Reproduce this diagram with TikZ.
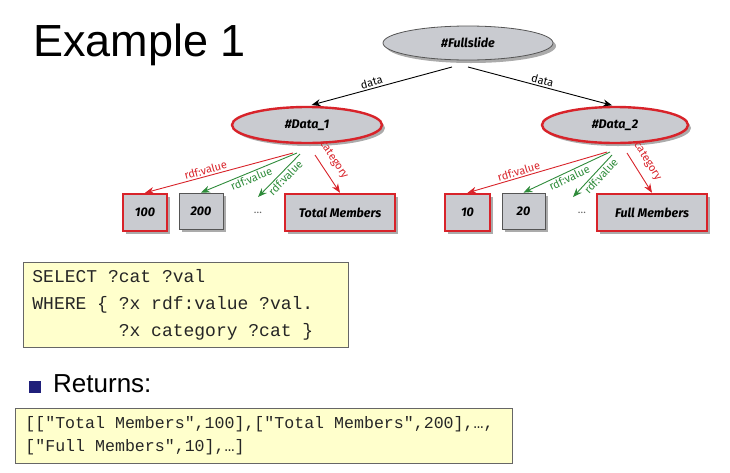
\documentclass[tikz,border=0pt]{standalone}
\usepackage{fontspec}
\setmainfont{Liberation Sans}
\newfontfamily\codefont{Liberation Mono}
\newfontfamily\gill{Fira Sans}
\usetikzlibrary{shapes.geometric,shadows,arrows.meta}
\definecolor{nodegray}{HTML}{C9CBD0}
\definecolor{rdred}{HTML}{D8232A}
\definecolor{rdgreen}{HTML}{2E8B3A}
\definecolor{codeyellow}{HTML}{FFFFCC}
\definecolor{navy}{HTML}{1F1F7A}
\definecolor{bordergray}{HTML}{555555}
\begin{document}
\begin{tikzpicture}[x=1pt,y=-1pt,
  nodefont/.style={font=\gill\bfseries\itshape\fontsize{12.5}{14}\selectfont},
  shad/.style={drop shadow={shadow xshift=3pt,shadow yshift=-3pt,fill=black!55,opacity=0.6}},
  ellnode/.style={ellipse, fill=nodegray, inner sep=0pt, nodefont, shad},
  boxnode/.style={rectangle, fill=nodegray, inner sep=0pt, nodefont, shad},
  redline/.style={draw=rdred, line width=2.4pt},
  grayline/.style={draw=bordergray, line width=0.8pt},
  dotsnode/.style={font=\gill\fontsize{11}{13}\selectfont, text=black!60},
  conn/.style={-{Stealth[length=9pt,width=7pt]}, line width=0.9pt},
  lbl/.style={font=\gill\fontsize{11}{12}\selectfont, inner sep=1.5pt},
  codebox/.style={rectangle, fill=codeyellow, draw=black!60, line width=0.8pt, align=left, anchor=north west, inner xsep=9pt, inner ysep=0pt, text=black!85}
]
\useasboundingbox (0,0) rectangle (730,472);

% title
\node[anchor=base west, inner sep=0pt, font=\fontsize{45}{50}\selectfont] (title) at (33,56) {Example 1};

% tree nodes
\node[ellnode, grayline, minimum width=170, minimum height=34] (fs) at (468,43) {\#Fullslide};
\node[ellnode, redline, minimum width=150, minimum height=36] (d1) at (307,125) {\#Data\_1};
\node[ellnode, redline, minimum width=146, minimum height=36] (d2) at (615,125) {\#Data\_2};

\node[boxnode, redline, minimum width=44, minimum height=37] (b100) at (145,212.5) {100};
\node[boxnode, grayline, minimum width=44, minimum height=36] (b200) at (201,211) {200};
\node[dotsnode] (dots1) at (258,213) {\ldots};
\node[boxnode, redline, minimum width=110, minimum height=37] (tm) at (340,212.5) {Total Members};

\node[boxnode, redline, minimum width=45, minimum height=37] (b10) at (467.5,212.5) {10};
\node[boxnode, grayline, minimum width=43, minimum height=36] (b20) at (523.5,211) {20};
\node[dotsnode] (dots2) at (582,213) {\ldots};
\node[boxnode, redline, minimum width=110, minimum height=37] (fm) at (652,212.5) {Full Members};

% connector start/end points
\coordinate (fsL) at (452,67);
\coordinate (fsR) at (468,67);
\coordinate (s1r) at (293,153);
\coordinate (s1g) at (297,153);
\coordinate (s1h) at (300,154);
\coordinate (s1c) at (315,155);
\coordinate (e1) at (258,197);
\coordinate (s2r) at (607,152);
\coordinate (s2g) at (610,152);
\coordinate (s2h) at (612,155);
\coordinate (s2c) at (627,153);
\coordinate (e2) at (573,197);

% data edges
\draw[conn, black, shorten >=3pt] (fsL) -- node[lbl, sloped, above, pos=0.55, text=black] {data} (d1.85);
\draw[conn, black, shorten >=2pt] (fsR) -- node[lbl, sloped, above, pos=0.5, text=black] {data} (d2.93);

% Data_1 edges
\draw[conn, rdred] (s1r) -- node[lbl, sloped, above, pos=0.58, text=rdred] {rdf:value} (b100.north);
\draw[conn, rdgreen] (s1g) -- node[lbl, sloped, below, pos=0.5, text=rdgreen] {rdf:value} (b200.north);
\draw[conn, rdgreen] (s1h) -- node[lbl, sloped, below, pos=0.45, text=rdgreen] {rdf:value} (e1);
\draw[conn, rdred] (s1c) -- node[lbl, sloped, above=6pt, pos=0.32, text=rdred] {category} (tm.north);

% Data_2 edges
\draw[conn, rdred] (s2r) -- node[lbl, sloped, above, pos=0.62, text=rdred] {rdf:value} (b10.north);
\draw[conn, rdgreen] (s2g) -- node[lbl, sloped, below, pos=0.5, text=rdgreen] {rdf:value} (b20.north);
\draw[conn, rdgreen] (s2h) -- node[lbl, sloped, below, pos=0.4, text=rdgreen] {rdf:value} (e2);
\draw[conn, rdred] (s2c) -- node[lbl, sloped, above=6pt, pos=0.38, text=rdred] {category} (fm.north);

% query box
\node[codebox, text width=307, minimum height=85, font=\codefont\fontsize{18}{27}\selectfont] (sql) at (23,262)
  {\spaceskip=0pt\xspaceskip=0pt\relax
   \mbox{SELECT ?cat ?val}\\\mbox{WHERE \{ ?x rdf:value ?val.}\\\mbox{\phantom{WHERE \{ }?x category ?cat \}}};

% bullet
\node[rectangle, fill=navy, minimum width=12, minimum height=12, inner sep=0pt] (bullet) at (35,387) {};
\node[anchor=base west, inner sep=0pt, font=\fontsize{26}{30}\selectfont] (ret) at (53,392) {Returns:};

% result box
\node[codebox, text width=477, minimum height=55, inner xsep=10pt, font=\codefont\fontsize{16.6}{23}\selectfont] (res) at (15,408)
  {\spaceskip=0pt\xspaceskip=0pt\relax
   \mbox{[["Total Members",100],["Total Members",200],…,}\\\mbox{["Full Members",10],…]}};
\end{tikzpicture}
\end{document}
